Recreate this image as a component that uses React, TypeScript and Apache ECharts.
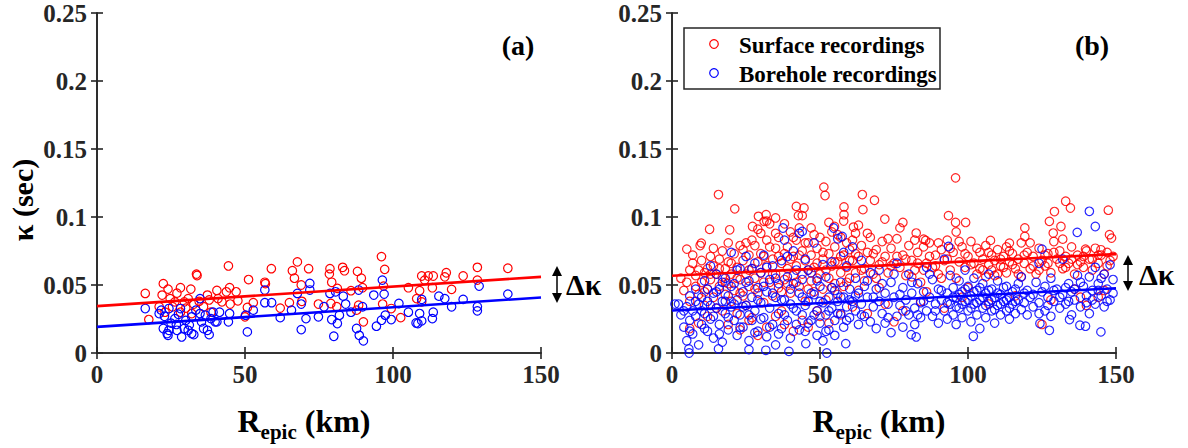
import React, { useEffect, useRef } from "react";
import * as echarts from "echarts";

// ---------- DATA ----------
const xTicks = [0, 50, 100, 150];
const yTicks = [0, 0.05, 0.1, 0.15, 0.2, 0.25];

const surfaceA: number[][] = [
  [16.3,0.0438],[17.5,0.0246],[22.4,0.051],[22,0.0426],[24,0.047],[21,0.034],[24.7,0.04],[27,0.044],[28.2,0.048],
  [31.7,0.047],[33.6,0.058],[33.8,0.057],[29.5,0.0376],[30.8,0.04],[32.7,0.036],[37.3,0.0426],[37.9,0.039],[40.5,0.046],
  [40.9,0.04],[44.4,0.064],[43.7,0.045],[44.8,0.048],[47,0.045],[47.6,0.0384],[45,0.036],[51.2,0.054],[52.8,0.037],
  [50.8,0.0335],[56.7,0.052],[56.9,0.051],[58.9,0.062],[61.9,0.033],[66,0.0605],[67.7,0.067],[66.7,0.055],[69,0.05],
  [65,0.037],[69.2,0.038],[71.5,0.062],[74.8,0.036],[78.7,0.062],[78.5,0.058],[79.3,0.052],[81.2,0.0475],[79,0.0364],
  [83,0.063],[83.6,0.0605],[81,0.034],[85.8,0.0458],[88,0.06],[89.3,0.055],[89.7,0.048],[88.4,0.0352],[87.7,0.0315],
  [90,0.0229],[96.1,0.0709],[97.2,0.0615],[96.8,0.0492],[96.5,0.036],[99.4,0.0327],[102.6,0.026],[105.2,0.048],[108,0.04],
  [109.7,0.0566],[110.7,0.0536],[111.9,0.0566],[113.6,0.0566],[113.3,0.048],[109,0.0458],[117.5,0.056],[118,0.059],
  [119.8,0.0468],[123.7,0.0566],[128.5,0.063],[128.5,0.0536],[138.8,0.0623],[109.7,0.0376],[23,0.03],[26.3,0.0376],
  [36,0.034],[28.2,0.03],[32,0.029],[38.5,0.03],[42.2,0.0376],[50,0.0266],[25.5,0.034],[34.5,0.038],[30,0.033]
];

const boreholeA: number[][] = [
  [16.3,0.0327],[21,0.029],[21.7,0.0315],[22.4,0.018],[23.7,0.0143],[24,0.013],[24.3,0.0167],[25,0.022],[26.3,0.0253],
  [27,0.0167],[28.6,0.0118],[29.5,0.018],[30.8,0.0167],[32,0.0143],[32.7,0.0135],[32,0.0266],[33.4,0.0315],[35.3,0.0229],
  [36,0.018],[37.9,0.0135],[37.3,0.0167],[38.5,0.0253],[39.2,0.03],[40.5,0.0229],[41.4,0.03],[44.4,0.0229],[44.8,0.029],
  [50.2,0.0278],[50.8,0.0155],[52.8,0.0315],[56.7,0.0463],[56.7,0.037],[59,0.037],[61.9,0.026],[65.7,0.0315],[67.7,0.0438],
  [69,0.036],[69,0.0172],[70.6,0.0253],[71.9,0.0512],[71.9,0.0463],[74.8,0.0266],[76.7,0.034],[78.7,0.0438],[79.3,0.0246],
  [80,0.0123],[80.6,0.045],[81.2,0.0217],[81.9,0.0278],[83.2,0.0418],[84,0.036],[85.8,0.03],[87.7,0.018],[88.4,0.0463],
  [88.6,0.013],[90,0.0089],[89.7,0.034],[93.5,0.0426],[94.4,0.0197],[96.1,0.0241],[96.4,0.0536],[97,0.0433],[97.4,0.0278],
  [99.4,0.0246],[102,0.0364],[105.2,0.03],[107.8,0.0221],[108.4,0.0217],[109.7,0.0236],[109.7,0.0394],[109,0.029],
  [113.3,0.0253],[113.6,0.03],[115.5,0.0418],[117.5,0.04],[119.8,0.034],[123.7,0.0394],[128.5,0.034],[128.5,0.031],
  [129.1,0.0492],[138.8,0.0433],[34.8,0.04],[28.2,0.0327],[24.3,0.0327],[30,0.024],[34.8,0.029],[39.9,0.0229],[36.6,0.0278],
  [22.8,0.027],[26.8,0.021],[31.2,0.0205],[27.5,0.0285]
];

const surfaceB: number[][] = [
  [15.7,0.1165],[21.2,0.106],[12.7,0.091],[19.5,0.0906],[5,0.0764],[9.9,0.0808],[9.5,0.079],[51.3,0.122],[51.7,0.1158],
  [64.3,0.1165],[64.5,0.1054],[68.4,0.1123],[71.9,0.0985],[95.8,0.1288],[93.4,0.101],[95.8,0.096],[133,0.1116],[134.6,0.1066],
  [129.2,0.104],[147.4,0.105],[147.8,0.087],[148.5,0.0845],[119.2,0.092],[119.2,0.0857],[127.5,0.0968],[128.8,0.0882],
  [131.4,0.093],[132,0.0837],[42,0.1078],[44.6,0.1066],[42.7,0.101],[35,0.0993],[29.2,0.1005],[31.8,0.1017],[31.1,0.0968],
  [27.2,0.093],[58.1,0.1074],[58.1,0.1017],[54.9,0.093],[61.3,0.0926],[78,0.096],[82.5,0.0882],[85,0.0837],[85.7,0.0828],
  [99.2,0.096],[107.6,0.0828],[114,0.0808],[139.7,0.0764],[144.9,0.0759],
  [3,0.055],[4,0.046],[5,0.052],[6,0.061],[6,0.038],[7,0.066],[8,0.049],[8,0.057],[9,0.043],[10,0.068],[10,0.052],[11,0.059],
  [11,0.035],[12,0.062],[12,0.047],[13,0.071],[13,0.054],[14,0.041],[14,0.064],[15,0.058],[15,0.033],[16,0.069],[16,0.049],
  [17,0.056],[17,0.075],[18,0.043],[18,0.062],[19,0.051],[19,0.067],[20,0.038],[20,0.058],[21,0.073],[21,0.046],[22,0.029],
  [22,0.063],[23,0.054],[23,0.079],[24,0.042],[24,0.068],[25,0.081],[25,0.058],[25,0.035],[26,0.072],[26,0.049],[27,0.062],
  [27,0.026],[28,0.079],[28,0.055],[29,0.067],[29,0.044],[30,0.088],[30,0.059],[31,0.071],[31,0.037],[32,0.064],[32,0.083],
  [33,0.052],[33,0.095],[34,0.069],[34,0.042],[35,0.077],[35,0.058],[36,0.048],[36,0.085],[37,0.066],[37,0.031],[38,0.073],
  [38,0.054],[39,0.078],[39,0.062],[40,0.044],[40,0.089],[41,0.071],[41,0.057],[42,0.083],[42,0.064],[43,0.092],[43,0.049],
  [44,0.075],[44,0.058],[45,0.068],[45,0.038],[46,0.081],[46,0.061],[47,0.053],[47,0.072],[48,0.087],[48,0.045],[49,0.066],
  [49,0.077],[50,0.058],[50,0.027],[51,0.069],[51,0.047],[52,0.082],[52,0.061],[53,0.055],[53,0.073],[54,0.064],[54,0.089],
  [55,0.051],[55,0.078],[56,0.067],[56,0.043],[57,0.085],[57,0.059],[58,0.072],[58,0.049],[59,0.063],[59,0.081],[60,0.076],
  [60,0.055],[61,0.068],[62,0.059],[62,0.088],[63,0.071],[63,0.046],[64,0.079],[65,0.062],[65,0.053],[66,0.074],[67,0.068],
  [67,0.085],[68,0.058],[69,0.076],[70,0.065],[70,0.048],[71,0.082],[72,0.071],[73,0.059],[74,0.077],[75,0.066],[75,0.023],
  [76,0.084],[77,0.063],[78,0.072],[79,0.057],[80,0.079],[81,0.068],[82,0.061],[83,0.074],[84,0.052],[85,0.078],[86,0.066],
  [86,0.045],[87,0.081],[88,0.063],[89,0.072],[90,0.058],[91,0.076],[92,0.068],[93,0.083],[94,0.061],[95,0.074],[96,0.089],
  [96,0.055],[97,0.067],[98,0.078],[99,0.063],[100,0.071],[100,0.048],[101,0.082],[102,0.066],[103,0.058],[104,0.074],
  [104,0.062],[105,0.069],[106,0.056],[106,0.079],[107,0.065],[108,0.072],[108,0.061],[109,0.068],[110,0.076],[110,0.058],
  [111,0.064],[112,0.071],[113,0.059],[113,0.078],[114,0.067],[115,0.073],[116,0.062],[117,0.069],[118,0.056],[118,0.081],
  [119,0.066],[120,0.074],[121,0.062],[122,0.071],[123,0.058],[124,0.077],[125,0.068],[125,0.021],[126,0.064],[127,0.073],
  [128,0.059],[129,0.082],[130,0.069],[131,0.075],[132,0.062],[133,0.071],[134,0.066],[135,0.078],[136,0.058],[137,0.072],
  [138,0.067],[138,0.041],[139,0.063],[140,0.075],[140,0.035],[141,0.069],[142,0.061],[143,0.077],[144,0.066],[145,0.072],
  [146,0.058],[146,0.046],[147,0.074],[148,0.068],[149,0.071],
  [6,0.018],[9,0.022],[12,0.027],[17,0.031],[19,0.021],[23,0.017],[26,0.024],[29,0.013],[32,0.019],[35,0.027],[38,0.021],
  [41,0.016],[44,0.024],[46,0.019],[49,0.031],[53,0.022],[57,0.028],[61,0.034],[66,0.029],[72,0.036],[78,0.031],[84,0.038],
  [92,0.033],[98,0.041],[107,0.036],[116,0.042],[128,0.039],[136,0.047],[144,0.041],
  [7,0.072],[9,0.061],[11,0.045],[13,0.058],[14,0.077],[16,0.062],[18,0.052],[19,0.081],[20,0.066],[22,0.055],[23,0.044],
  [24,0.076],[26,0.061],[27,0.083],[28,0.047],[29,0.091],[30,0.073],[31,0.052],[32,0.097],[33,0.078],[34,0.058],[35,0.088],
  [36,0.071],[37,0.045],[38,0.095],[39,0.051],[40,0.069],[41,0.085],[42,0.052],[43,0.072],[44,0.101],[45,0.081],[46,0.047],
  [47,0.092],[48,0.063],[49,0.055],[50,0.085],[51,0.074],[52,0.039],[53,0.096],[54,0.048],[55,0.067],[56,0.087],[57,0.071],
  [58,0.097],[59,0.052],[60,0.068],[61,0.083],[62,0.073],[63,0.094],[64,0.061],[66,0.088],[68,0.073],[69,0.055],[71,0.067],
  [73,0.084],[74,0.064],[76,0.071],[77,0.092],[79,0.069],[81,0.056],[82,0.083],[83,0.066],[85,0.061],[87,0.071],[89,0.064],
  [90,0.081],[91,0.055],[93,0.069],[94,0.077],[97,0.082],[99,0.073],[101,0.065],[103,0.077],[105,0.061],[107,0.074],
  [109,0.057],[111,0.069],[112,0.063],[114,0.075],[115,0.065],[117,0.058],[119,0.072],[121,0.081],[122,0.064],[124,0.061],
  [126,0.072],[127,0.066],[129,0.074],[131,0.066],[133,0.063],[135,0.069],[137,0.065],[139,0.071],[142,0.069],[144,0.072],
  [147,0.064]
];

const boreholeB: number[][] = [
  [141,0.1042],[143,0.093],[136.9,0.0887],[144.9,0.0155],[148,0.0648],[134.3,0.0246],[137.8,0.0204],[139.7,0.0197],
  [127.5,0.0167],[124.3,0.0217],[101.8,0.0123],[82.5,0.0118],[80.8,0.0135],[58.7,0.0069],[52.3,0],[5.8,0],[5.7,0.003],
  [15.7,0.003],[26,0.0025],[31.7,0.002],[39.5,0.0012],[45.2,0.0069],[2.2,0.036],[37.5,0.0919],[44,0.0894],[54.6,0.0919],
  [57.5,0.0857],[93.4,0.0783],[125,0.0764],
  [1,0.036],[3,0.028],[4,0.019],[5,0.034],[5,0.009],[6,0.042],[6,0.024],[7,0.031],[7,0.014],[8,0.047],[8,0.027],[9,0.036],
  [9,0.006],[10,0.021],[10,0.041],[11,0.053],[11,0.029],[12,0.016],[12,0.038],[13,0.064],[13,0.025],[14,0.044],[14,0.011],
  [15,0.033],[15,0.058],[16,0.021],[16,0.047],[17,0.038],[17,0.008],[18,0.029],[18,0.055],[19,0.042],[19,0.017],[20,0.074],
  [20,0.034],[21,0.024],[21,0.051],[22,0.013],[22,0.039],[23,0.062],[23,0.028],[24,0.045],[24,0.019],[25,0.071],[25,0.035],
  [26,0.053],[26,0.009],[27,0.041],[27,0.024],[28,0.066],[28,0.031],[29,0.048],[29,0.016],[30,0.059],[30,0.037],[31,0.072],
  [31,0.026],[32,0.045],[32,0.012],[33,0.054],[33,0.033],[34,0.064],[34,0.021],[35,0.041],[35,0.006],[36,0.051],[36,0.029],
  [37,0.068],[37,0.018],[38,0.083],[38,0.039],[39,0.056],[39,0.024],[40,0.047],[40,0.011],[41,0.075],[41,0.033],[42,0.061],
  [42,0.021],[43,0.044],[43,0.088],[44,0.054],[44,0.028],[45,0.069],[45,0.016],[46,0.038],[47,0.059],[47,0.024],[48,0.081],
  [48,0.043],[49,0.031],[49,0.013],[50,0.049],[50,0.022],[51,0.037],[51,0.009],[52,0.028],[52,0.056],[53,0.041],[53,0.017],
  [54,0.033],[54,0.067],[55,0.046],[55,0.024],[56,0.038],[56,0.084],[57,0.029],[57,0.052],[58,0.041],[58,0.019],[59,0.064],
  [59,0.034],[60,0.047],[60,0.026],[61,0.078],[61,0.038],[62,0.031],[62,0.055],[63,0.044],[63,0.021],[64,0.068],[64,0.036],
  [65,0.049],[65,0.027],[66,0.041],[67,0.059],[67,0.023],[68,0.034],[69,0.047],[69,0.018],[70,0.038],[70,0.061],[71,0.029],
  [72,0.044],[72,0.022],[73,0.036],[74,0.052],[74,0.015],[75,0.041],[76,0.066],[76,0.027],[77,0.035],[78,0.048],[78,0.019],
  [79,0.039],[80,0.058],[80,0.028],[81,0.044],[82,0.033],[82,0.021],[83,0.051],[84,0.037],[84,0.026],[85,0.045],[86,0.031],
  [86,0.063],[87,0.041],[88,0.027],[88,0.054],[89,0.036],[90,0.047],[90,0.022],[91,0.039],[92,0.069],[92,0.031],[93,0.044],
  [93,0.025],[94,0.036],[94,0.057],[95,0.028],[95,0.048],[96,0.041],[96,0.021],[97,0.053],[97,0.033],[98,0.045],[98,0.026],
  [99,0.038],[99,0.061],[100,0.031],[100,0.049],[101,0.042],[101,0.023],[102,0.036],[102,0.055],[103,0.028],[103,0.046],
  [104,0.039],[104,0.018],[105,0.051],[105,0.033],[106,0.044],[106,0.026],[107,0.038],[107,0.058],[108,0.031],[108,0.047],
  [109,0.041],[109,0.022],[110,0.035],[110,0.053],[111,0.043],[111,0.028],[112,0.038],[113,0.049],[113,0.031],[114,0.041],
  [114,0.025],[115,0.036],[116,0.047],[116,0.029],[117,0.039],[118,0.056],[118,0.032],[119,0.044],[120,0.028],[121,0.041],
  [122,0.034],[123,0.052],[124,0.037],[124,0.066],[125,0.045],[126,0.031],[127,0.041],[128,0.055],[128,0.027],[129,0.038],
  [130,0.047],[131,0.033],[132,0.043],[132,0.069],[133,0.036],[134,0.051],[135,0.028],[135,0.045],[136,0.039],[137,0.057],
  [138,0.034],[139,0.049],[140,0.042],[141,0.029],[141,0.056],[142,0.046],[143,0.036],[143,0.063],[144,0.051],[145,0.042],
  [146,0.034],[146,0.058],[147,0.047],[148,0.039],[149,0.054],[149,0.044],
  [4,0.031],[6,0.016],[8,0.038],[10,0.031],[11,0.018],[12,0.047],[13,0.035],[14,0.027],[15,0.045],[16,0.014],[17,0.052],
  [18,0.038],[19,0.026],[20,0.049],[21,0.036],[22,0.061],[23,0.019],[24,0.034],[25,0.052],[26,0.028],[27,0.062],[28,0.015],
  [29,0.039],[30,0.025],[31,0.049],[32,0.063],[33,0.019],[34,0.044],[35,0.055],[36,0.014],[37,0.039],[38,0.028],[39,0.071],
  [40,0.036],[41,0.051],[42,0.031],[43,0.017],[44,0.041],[45,0.035],[46,0.061],[46,0.022],[47,0.044],[48,0.028],[49,0.053],
  [50,0.038],[51,0.065],[52,0.016],[53,0.031],[54,0.048],[55,0.013],[56,0.029],[57,0.041],[58,0.074],[59,0.024],[60,0.039],
  [62,0.042],[64,0.028],[66,0.053],[68,0.041],[71,0.051],[73,0.026],[75,0.058],[77,0.043],[79,0.031],[81,0.052],[83,0.028],
  [85,0.038],[87,0.058],[89,0.031],[91,0.046],[93,0.037],[95,0.041],[96,0.034],[97,0.043],[98,0.036],[99,0.047],[100,0.039],
  [101,0.033],[102,0.045],[103,0.037],[104,0.048],[105,0.041],[106,0.035],[107,0.046],[108,0.039],[109,0.032],[110,0.044],
  [111,0.036],[112,0.048],[113,0.039],[114,0.033],[115,0.045],[116,0.038],[117,0.051],[119,0.037],[120,0.046],[122,0.043],
  [124,0.029],[126,0.049],[127,0.035],[129,0.046],[131,0.041],[133,0.048],[134,0.038],[136,0.047],[138,0.052],[140,0.037],
  [142,0.039],[144,0.046],[145,0.055],[147,0.038]
];

const fitSurfaceA = [[0, 0.0345], [150, 0.056]];
const fitBoreholeA = [[0, 0.0192], [150, 0.0408]];
const fitSurfaceB = [[0, 0.0568], [150, 0.0727]];
const fitBoreholeB = [[0, 0.0312], [150, 0.0476]];

const legendNames = ["Surface recordings", "Borehole recordings"];
const panelTags = ["(a)", "(b)"];

// ---------- STYLE ----------
const SERIF = "\"Liberation Serif\", serif";
const AX = "#262626";
const RED = "#ff0000";
const BLUE = "#0000ff";

// Approximate Times-Bold advance widths (em) for laying out the sub-scripted title
const EM: Record<string, number> = { R: 0.722, e: 0.444, p: 0.556, i: 0.278, c: 0.444, " ": 0.25, "(": 0.333, k: 0.556, m: 0.833, ")": 0.333 };
const width = (s: string, size: number) => s.split("").reduce((a, ch) => a + (EM[ch] || 0.5) * size, 0);

const txt = (text: string, size: number, extra: any = {}) => ({
  text, fontFamily: SERIF, fontWeight: "bold", fontSize: size, fill: "#000", ...extra,
});

const FONT_CSS = `svg text, svg tspan { font-family: "Liberation Serif", serif !important; font-weight: bold !important; }`;

export default function App() {
  const ref = useRef<HTMLDivElement>(null);
  useEffect(() => {
    const chart = echarts.init(ref.current!, undefined, { renderer: "svg" });
    const grids = [
      { left: 97, top: 13, width: 444, height: 340 },
      { left: 672, top: 13, width: 444, height: 340 },
    ];
    const lbl = { fontFamily: SERIF, fontWeight: "bold", fontSize: 25, color: AX };
    const axLine = { show: true, lineStyle: { color: AX, width: 1.6 } };
    const tick = { show: true, inside: true, length: 6, lineStyle: { color: AX, width: 1.6 } };
    const xAxes: any[] = [];
    const yAxes: any[] = [];
    [0, 1].forEach((g) => {
      xAxes.push({ type: "value", gridIndex: g, min: xTicks[0], max: xTicks[xTicks.length - 1], interval: 50, position: "bottom",
        axisLine: axLine, axisTick: tick, splitLine: { show: false }, axisLabel: { ...lbl, margin: 9 } });
      xAxes.push({ type: "value", gridIndex: g, min: 0, max: 150, interval: 50, position: "top",
        axisLine: axLine, axisTick: tick, splitLine: { show: false }, axisLabel: { show: false } });
      yAxes.push({ type: "value", gridIndex: g, min: yTicks[0], max: yTicks[yTicks.length - 1], interval: 0.05, position: "left",
        axisLine: axLine, axisTick: tick, splitLine: { show: false }, axisLabel: { ...lbl, margin: 10 } });
      yAxes.push({ type: "value", gridIndex: g, min: 0, max: 0.25, interval: 0.05, position: "right",
        axisLine: axLine, axisTick: tick, splitLine: { show: false }, axisLabel: { show: false } });
    });

    const scatter = (name: string, data: number[][], g: number, color: string, op: number) => ({
      name, type: "scatter", xAxisIndex: g * 2, yAxisIndex: g * 2, data, symbol: "circle", symbolSize: 8.5,
      itemStyle: { color: "transparent", borderColor: color, borderWidth: 1.2, opacity: op }, silent: true,
    });
    const fit = (data: number[][], g: number, color: string) => ({
      type: "line", xAxisIndex: g * 2, yAxisIndex: g * 2, data, symbol: "none", z: 5,
      lineStyle: { color, width: 2.6 }, silent: true,
    });

    const TS = 32, SS = 21;
    const xTitle = (cx: number) => {
      const wR = width("R", TS), wSub = width("epic", SS);
      const total = wR + wSub + width(" (km)", TS);
      const x0 = cx - total / 2;
      return [
        { type: "text", x: x0, y: 421, style: txt("R", TS, { verticalAlign: "middle" }) },
        { type: "text", x: x0 + wR, y: 432, style: txt("epic", SS, { verticalAlign: "middle" }) },
        { type: "text", x: x0 + wR + wSub, y: 421, style: txt(" (km)", TS, { verticalAlign: "middle" }) },
      ];
    };
    const arrow = (x: number, y1: number, y2: number) => [
      { type: "line", shape: { x1: x, y1: y1 + 8, x2: x, y2: y2 - 8 }, style: { stroke: "#000", lineWidth: 1.5 } },
      { type: "polygon", shape: { points: [[x, y1], [x - 5, y1 + 10], [x + 5, y1 + 10]] }, style: { fill: "#000" } },
      { type: "polygon", shape: { points: [[x, y2], [x - 5, y2 - 10], [x + 5, y2 - 10]] }, style: { fill: "#000" } },
    ];
    const dk = (x: number, y: number) => ({ type: "text", x, y, style: txt("Δκ", 30, { verticalAlign: "middle" }) });

    const graphic: any[] = [
      { type: "text", x: 22, y: 200, rotation: Math.PI / 2,
        style: txt("κ (sec)", 30, { align: "center", verticalAlign: "middle" }) },
      ...xTitle(304),
      ...xTitle(879),
      { type: "text", x: 518, y: 45, style: txt(panelTags[0], 28, { align: "center", verticalAlign: "middle" }) },
      { type: "text", x: 1092, y: 45, style: txt(panelTags[1], 28, { align: "center", verticalAlign: "middle" }) },
      ...arrow(557, 266, 303),
      dk(566, 284),
      ...arrow(1128, 255, 291),
      dk(1139, 274),
      { type: "rect", shape: { x: 684, y: 28, width: 256, height: 61 }, style: { fill: "#fff", stroke: AX, lineWidth: 1.5 }, z: 100 },
      { type: "circle", shape: { cx: 714, cy: 44, r: 4.3 }, style: { fill: "none", stroke: RED, lineWidth: 1.2 }, z: 101 },
      { type: "circle", shape: { cx: 714, cy: 73, r: 4.3 }, style: { fill: "none", stroke: BLUE, lineWidth: 1.2 }, z: 101 },
      { type: "text", x: 739, y: 45, style: txt(legendNames[0], 23, { verticalAlign: "middle" }), z: 101 },
      { type: "text", x: 739, y: 74, style: txt(legendNames[1], 23, { verticalAlign: "middle" }), z: 101 },
    ];

    chart.setOption({
      animation: false,
      backgroundColor: "#fff",
      textStyle: { fontFamily: SERIF, fontWeight: "bold" },
      grid: grids,
      xAxis: xAxes,
      yAxis: yAxes,
      series: [
        scatter(legendNames[0], surfaceA, 0, RED, 1),
        scatter(legendNames[1], boreholeA, 0, BLUE, 1),
        fit(fitSurfaceA, 0, RED),
        fit(fitBoreholeA, 0, BLUE),
        scatter(legendNames[0], surfaceB, 1, RED, 0.85),
        scatter(legendNames[1], boreholeB, 1, BLUE, 0.85),
        fit(fitSurfaceB, 1, RED),
        fit(fitBoreholeB, 1, BLUE),
      ],
      graphic,
    });
    return () => chart.dispose();
  }, []);
  return (
    <div>
      <style>{FONT_CSS}</style>
      <div ref={ref} style={{ position: "fixed", left: 0, top: 0, width: 1188, height: 448 }} />
    </div>
  );
}
